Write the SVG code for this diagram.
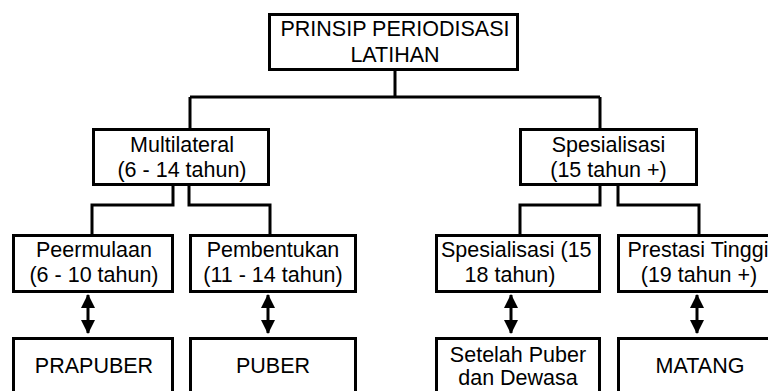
<svg xmlns="http://www.w3.org/2000/svg" width="768" height="391" viewBox="0 0 768 391">
<style>
.box{fill:#fff;stroke:#000;stroke-width:3}
.t{font-family:"Liberation Sans",Arial,sans-serif;font-size:21.5px;fill:#000;text-anchor:middle}
.c{fill:none;stroke:#000;stroke-width:3}
.s{stroke:#000;stroke-width:3}
</style>
<defs>
<marker id="ah" viewBox="0 0 14 14" refX="13" refY="7" markerWidth="14" markerHeight="14" markerUnits="userSpaceOnUse" orient="auto-start-reverse">
<path d="M0,0 L14,7 L0,14 Z" fill="#000"/>
</marker>
<clipPath id="clipS"><rect x="436" y="236" width="164" height="56"/></clipPath>
</defs>
<g id="connectors">
<path class="c" d="M395,70 V97 M190,97 H600 M190,97 V128 M600,97 V128"/>
<path class="c" d="M173,186 V205 H92 V234 M189,186 V205 H270 V234"/>
<path class="c" d="M600,186 V205 H520 V234 M618,186 V205 H699 V234"/>
<line class="s" x1="88" y1="295" x2="88" y2="333" marker-start="url(#ah)" marker-end="url(#ah)"/>
<line class="s" x1="268" y1="295" x2="268" y2="333" marker-start="url(#ah)" marker-end="url(#ah)"/>
<line class="s" x1="511" y1="295" x2="511" y2="333" marker-start="url(#ah)" marker-end="url(#ah)"/>
<line class="s" x1="697" y1="295" x2="697" y2="333" marker-start="url(#ah)" marker-end="url(#ah)"/>
</g>
<g id="n-root">
<rect class="box" x="269.5" y="14.5" width="248" height="55"/>
<text class="t" x="395" y="36">PRINSIP PERIODISASI</text>
<text class="t" x="395" y="62">LATIHAN</text>
</g>
<g id="n-multilateral">
<rect class="box" x="93.5" y="129.5" width="175" height="55"/>
<text class="t" x="182" y="152">Multilateral</text>
<text class="t" x="182" y="177">(6 - 14 tahun)</text>
</g>
<g id="n-spesialisasi">
<rect class="box" x="520.5" y="129.5" width="176" height="55"/>
<text class="t" x="608.5" y="152">Spesialisasi</text>
<text class="t" x="608.5" y="177">(15 tahun +)</text>
</g>
<g id="n-peermulaan">
<rect class="box" x="13.5" y="235.5" width="159" height="56"/>
<text class="t" x="94" y="257">Peermulaan</text>
<text class="t" x="94" y="282">(6 - 10 tahun)</text>
</g>
<g id="n-pembentukan">
<rect class="box" x="190.5" y="235.5" width="165" height="56"/>
<text class="t" x="273" y="257">Pembentukan</text>
<text class="t" x="273" y="282">(11 - 14 tahun)</text>
</g>
<g id="n-spesialisasi15">
<rect class="box" x="436.5" y="235.5" width="163" height="56"/>
<text class="t" x="441" y="257" style="text-anchor:start" clip-path="url(#clipS)">Spesialisasi (15 -</text>
<text class="t" x="510" y="282">18 tahun)</text>
</g>
<g id="n-prestasi">
<rect class="box" x="618.5" y="235.5" width="170" height="56"/>
<text class="t" x="698" y="257">Prestasi Tinggi</text>
<text class="t" x="699" y="282">(19 tahun +)</text>
</g>
<g id="n-prapuber">
<rect class="box" x="13.5" y="338.5" width="159" height="70"/>
<text class="t" x="94" y="373">PRAPUBER</text>
</g>
<g id="n-puber">
<rect class="box" x="190.5" y="338.5" width="165" height="70"/>
<text class="t" x="273" y="373">PUBER</text>
</g>
<g id="n-setelah">
<rect class="box" x="436.5" y="338.5" width="163" height="70"/>
<text class="t" x="518" y="362">Setelah Puber</text>
<text class="t" x="518" y="385">dan Dewasa</text>
</g>
<g id="n-matang">
<rect class="box" x="618.5" y="338.5" width="170" height="70"/>
<text class="t" x="700" y="373">MATANG</text>
</g>
</svg>
